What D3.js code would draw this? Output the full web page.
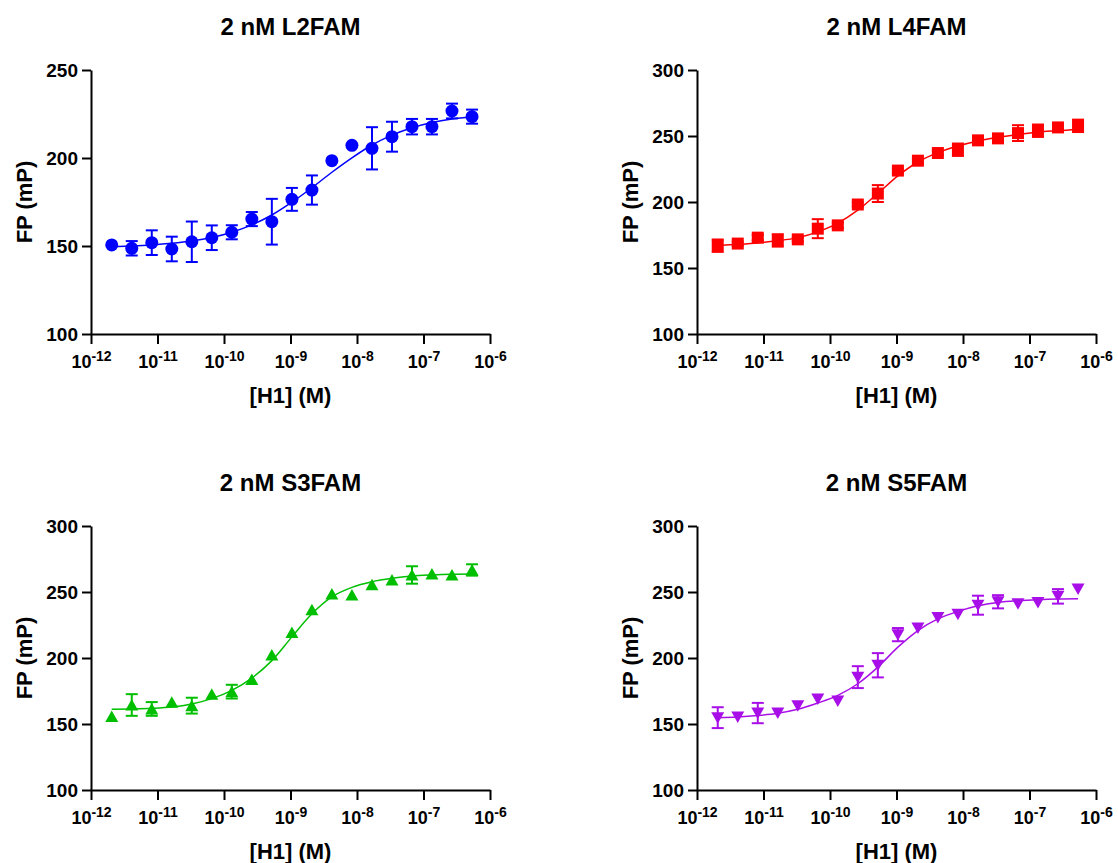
<!DOCTYPE html>
<html>
<head>
<meta charset="utf-8">
<script src="https://cdnjs.cloudflare.com/ajax/libs/d3/7.8.5/d3.min.js"></script>
<style>
  body { margin: 0; background: #fff; }
  text { font-family: "Liberation Sans", Arial, sans-serif; font-weight: bold; fill: #000; }
  .axis path, .axis line { stroke: #000; stroke-width: 2; }
</style>
</head>
<body>
<svg id="chart" width="1118" height="863"></svg>
<script>
// [H1] concentrations (M), 2-fold dilution series
const concentrations = [2.05e-12, 4.1e-12, 8.2e-12, 1.64e-11, 3.28e-11, 6.55e-11, 1.31e-10, 2.62e-10,
  5.24e-10, 1.05e-9, 2.1e-9, 4.19e-9, 8.39e-9, 1.68e-8, 3.36e-8, 6.71e-8, 1.34e-7, 2.68e-7, 5.37e-7];

const titles = ["2 nM L2FAM", "2 nM L4FAM", "2 nM S3FAM", "2 nM S5FAM"];
const colors = ["#0000ff", "#ff0000", "#00bf00", "#a80fe8"];

// mean FP (mP)
const l2Values = [150.6, 148.7, 151.9, 148.3, 152.4, 154.7, 157.8, 165.3, 163.8, 176.5, 181.8, 198.5, 207.2, 205.5, 212.1, 217.8, 217.8, 226.7, 223.5];
const l4Values = [166.9, 168.5, 173.0, 170.9, 171.7, 179.8, 182.3, 198.1, 206.4, 223.8, 231.3, 237.1, 239.6, 246.7, 248.2, 252.2, 254.0, 256.5, 257.7];
const s3Values = [155.6, 164.4, 161.4, 166.4, 163.9, 172.5, 174.5, 183.8, 202.3, 219.4, 236.6, 248.5, 247.7, 255.5, 259.1, 262.9, 263.6, 262.9, 266.7];
const s5Values = [154.8, 155.3, 158.3, 158.4, 163.9, 168.9, 167.4, 185.5, 194.5, 217.7, 222.8, 230.6, 233.1, 240.0, 242.6, 241.1, 242.1, 246.7, 252.2];

// SD (0 = bar hidden behind the symbol)
const l2Errors = [0, 4.1, 7.0, 7.0, 11.5, 7.0, 4.0, 4.0, 13.0, 6.5, 8.3, 0, 0, 12.0, 8.5, 4.4, 4.4, 4.2, 4.0];
const l4Errors = [4.7, 1.5, 2.0, 4.7, 1.5, 7.2, 2.0, 1.5, 6.4, 1.5, 1.5, 1.5, 4.7, 1.5, 1.5, 6.0, 4.7, 1.5, 4.7];
const s3Errors = [0, 8.2, 5.2, 0, 6.0, 0, 5.2, 0, 0, 0, 0, 0, 0, 0, 0, 6.6, 0, 0, 4.3];
const s5Errors = [7.9, 0, 7.7, 0, 0, 0, 0, 8.3, 9.2, 5.0, 0, 0, 0, 7.2, 5.0, 0, 0, 5.5, 0];

// fitted curve read at each concentration
const l2Fit = [149.6, 150.0, 150.6, 151.5, 152.8, 154.8, 157.8, 162.0, 167.6, 174.9, 183.1, 191.9, 200.1, 207.4, 213.0, 217.2, 220.2, 222.2, 223.5];
const l4Fit = [167.0, 167.9, 169.0, 170.6, 173.0, 177.4, 184.0, 193.8, 206.5, 219.8, 230.3, 237.4, 242.4, 246.2, 249.0, 251.2, 252.9, 254.1, 255.0];
const s3Fit = [161.1, 161.4, 161.9, 162.9, 165.2, 169.2, 175.5, 184.8, 198.0, 216.0, 233.5, 246.3, 253.5, 257.8, 260.4, 262.1, 262.9, 263.4, 263.6];
const s5Fit = [154.8, 155.3, 156.4, 158.1, 161.1, 165.9, 171.7, 180.5, 193.1, 208.2, 220.8, 229.6, 235.3, 239.6, 242.1, 243.4, 244.2, 244.7, 244.9];

const xTicks = [1e-12, 1e-11, 1e-10, 1e-9, 1e-8, 1e-7, 1e-6];
const xTickExponents = ["-12", "-11", "-10", "-9", "-8", "-7", "-6"];
const yTicksL2 = [100, 150, 200, 250];
const yTicks = [100, 150, 200, 250, 300];

const xLabel = "[H1] (M)";
const yLabel = "FP (mP)";

var plotWidth = 399,
    plotHeight = 264;

// marker shapes
const markerPaths = {
  circle: d3.symbol(d3.symbolCircle, Math.PI * 6.5 * 6.5)(),
  square: "M-6,-6H6V6H-6Z",
  triangle: "M0,-6L6.5,5.5H-6.5Z",
  triangleDown: "M-6.5,-5.5H6.5L0,6Z"
};

const panels = [
  {title: titles[0], values: l2Values, errors: l2Errors, fit: l2Fit, color: colors[0], marker: "circle", ticks: yTicksL2, left: 91, top: 70},
  {title: titles[1], values: l4Values, errors: l4Errors, fit: l4Fit, color: colors[1], marker: "square", ticks: yTicks, left: 697, top: 70},
  {title: titles[2], values: s3Values, errors: s3Errors, fit: s3Fit, color: colors[2], marker: "triangle", ticks: yTicks, left: 91, top: 526},
  {title: titles[3], values: s5Values, errors: s5Errors, fit: s5Fit, color: colors[3], marker: "triangleDown", ticks: yTicks, left: 697, top: 526}
];

var svg = d3.select("#chart");

panels.forEach(p => {
  var x = d3.scaleLog().domain([1e-12, 1e-6]).range([0, plotWidth]);
  var y = d3.scaleLinear().domain(d3.extent(p.ticks)).range([plotHeight, 0]);

  var g = svg.append("g").attr("transform", `translate(${p.left},${p.top})`);

  // y axis
  var yAxis = g.append("g")
      .attr("class", "axis")
      .call(d3.axisLeft(y).tickValues(p.ticks).tickSize(9).tickSizeOuter(0).tickPadding(4));
  yAxis.selectAll(".tick text").style("font-size", "19px");

  // x axis, labels as 10 with superscript exponent
  var xAxis = g.append("g")
      .attr("class", "axis")
      .attr("transform", `translate(0,${plotHeight})`)
      .call(d3.axisBottom(x).tickValues(xTicks).tickSize(10).tickSizeOuter(0).tickFormat(() => ""));
  xAxis.selectAll(".tick text")
      .attr("y", 34)
      .attr("dy", null)
      .each(function(d, i) {
        var t = d3.select(this);
        t.append("tspan").style("font-size", "18px").text("10");
        t.append("tspan").style("font-size", "14px").attr("dy", -7).text(xTickExponents[i]);
      });

  // fitted curve
  var line = d3.line()
      .x((d, i) => x(concentrations[i]))
      .y(d => y(d))
      .curve(d3.curveMonotoneX);

  g.append("path")
      .datum(p.fit)
      .attr("d", line)
      .attr("fill", "none")
      .attr("stroke", p.color)
      .attr("stroke-width", 1.5);

  // error bars (mean ± SD)
  var withErr = d3.range(p.values.length).filter(i => p.errors[i] > 0);
  var bars = g.append("g")
      .attr("stroke", p.color)
      .attr("stroke-width", 2)
    .selectAll("g")
      .data(withErr)
    .enter().append("g")
      .attr("transform", i => `translate(${x(concentrations[i])},0)`);

  bars.append("line")
      .attr("y1", i => y(p.values[i] - p.errors[i]))
      .attr("y2", i => y(p.values[i] + p.errors[i]));
  bars.append("line")
      .attr("x1", -6).attr("x2", 6)
      .attr("y1", i => y(p.values[i] + p.errors[i]))
      .attr("y2", i => y(p.values[i] + p.errors[i]));
  bars.append("line")
      .attr("x1", -6).attr("x2", 6)
      .attr("y1", i => y(p.values[i] - p.errors[i]))
      .attr("y2", i => y(p.values[i] - p.errors[i]));

  // points
  g.append("g").selectAll("path")
      .data(p.values)
    .enter().append("path")
      .attr("d", markerPaths[p.marker])
      .attr("transform", (d, i) => `translate(${x(concentrations[i])},${y(d)})`)
      .attr("fill", p.color);

  // titles
  g.append("text")
      .attr("x", plotWidth / 2)
      .attr("y", -35)
      .attr("text-anchor", "middle")
      .style("font-size", "24px")
      .text(p.title);

  g.append("text")
      .attr("x", plotWidth / 2)
      .attr("y", plotHeight + 69)
      .attr("text-anchor", "middle")
      .style("font-size", "22px")
      .text(xLabel);

  g.append("text")
      .attr("transform", `translate(-59,${plotHeight / 2}) rotate(-90)`)
      .attr("text-anchor", "middle")
      .style("font-size", "22px")
      .text(yLabel);
});
</script>
</body>
</html>
